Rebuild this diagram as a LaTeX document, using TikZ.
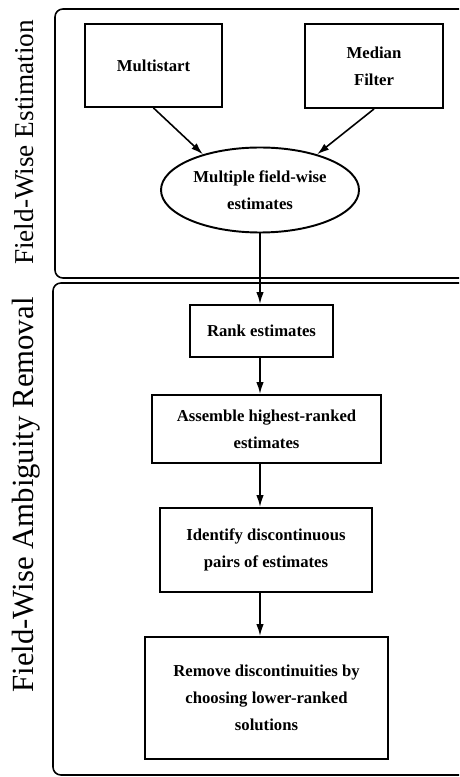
\documentclass[tikz,border=0pt]{standalone}
\usepackage{fontspec}
\setmainfont{Liberation Serif}
\usetikzlibrary{arrows.meta,positioning,shapes.geometric}
\tikzset{box/.style={draw,line width=1.1pt,align=center,inner sep=2pt,font=\fontsize{9.5}{15.3}\selectfont\bfseries},oval/.style={box,ellipse,inner sep=0pt},edge/.style={-{Latex[length=2.4mm,width=1.5mm]},line width=0.9pt},frame/.style={line width=0.9pt,rounded corners=4.5pt},side/.style={rotate=90,inner sep=0pt,font=\fontsize{15.5}{18}\selectfont}}

\begin{document}
\begin{tikzpicture}
\useasboundingbox (0,0) rectangle (9.18,-15.54);
\draw[frame](9.18,-0.18)-|(1.10,-5.56)--(9.18,-5.56);
\draw[frame](9.18,-5.66)-|(1.06,-15.50)--(9.18,-15.50);
\node[side](est)at(0.48,-2.85){Field-Wise Estimation};
\node[side,font=\fontsize{17.5}{20}\selectfont](amb)at(0.52,-9.9){Field-Wise Ambiguity Removal};
\node[box,minimum width=2.74cm,minimum height=1.66cm](multi)at(3.07,-1.31){Multistart};
\node[box,minimum width=2.76cm,minimum height=1.68cm](median)at(7.48,-1.32){Median\\Filter};
\node[oval,minimum width=3.96cm,minimum height=1.70cm](fieldest)at(5.20,-3.80){Multiple field-wise\\estimates};
\node[box,minimum width=2.86cm,minimum height=1.04cm](rank)at(5.23,-6.62){Rank estimates};
\node[box,minimum width=4.58cm,minimum height=1.36cm](assemble)at(5.33,-8.58){Assemble highest-ranked\\estimates};
\node[box,minimum width=4.24cm,minimum height=1.68cm](ident)at(5.32,-11.0){Identify discontinuous\\pairs of estimates};
\node[box,minimum width=4.86cm,minimum height=2.44cm](remove)at(5.33,-13.96){Remove discontinuities by\\choosing lower-ranked\\solutions};
\draw[edge](multi.south)--(fieldest.148);\draw[edge](median.south)--(fieldest.32);
\draw[edge](fieldest.south)--(fieldest.south|-rank.north);
\draw[edge](fieldest.south|-rank.south)--(fieldest.south|-assemble.north);
\draw[edge](fieldest.south|-assemble.south)--(fieldest.south|-ident.north);
\draw[edge](fieldest.south|-ident.south)--(fieldest.south|-remove.north);
\end{tikzpicture}
\end{document}
